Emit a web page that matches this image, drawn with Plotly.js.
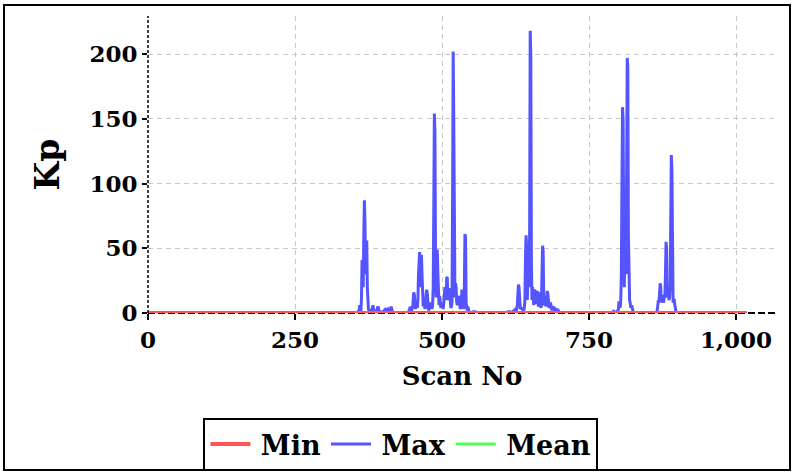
<!DOCTYPE html>
<html>
<head>
<meta charset="utf-8">
<script src="https://cdn.plot.ly/plotly-3.0.1.min.js"></script>
<style>html,body{margin:0;padding:0;background:#fff;}#chart{width:794px;height:474px;}</style>
</head>
<body>
<div id="chart"></div>
<script>
// ---- data ----
var seriesNames = ["Min", "Max", "Mean"];

var minScans = [0, 1018];
var minValues = [0, 0];

var meanScans = [0, 364, 368, 372, 486, 487, 490, 518, 519, 522, 649, 650, 653, 806, 807, 815, 818, 889, 890, 893, 1018];
var meanValues = [0, 0, 0.4, 0, 0, 0.6, 0, 0, 0.6, 0, 0, 0.7, 0, 0, 0.5, 0.6, 0, 0, 0.4, 0, 0];

var maxScans = [
  0,
  355, 359, 360, 361, 362, 363, 364, 365, 366, 367, 368, 369, 370, 371, 372, 373, 374, 375, 376, 377, 379, 381, 382, 383, 384, 385, 387, 389, 391, 392, 393, 395, 397, 399, 401, 403, 404, 406, 408, 410, 412, 413, 414, 415, 417,
  440, 443, 445, 446, 447, 448, 450, 451, 452, 453, 454, 455, 456, 457, 458, 459, 460, 461, 462, 463, 464, 465, 466, 467, 468, 469, 470, 471, 472, 473, 474, 475, 476, 477, 478, 479, 480, 481, 482, 483, 484, 485, 486, 487, 488, 489, 490, 491, 492, 493, 494, 495, 496, 497, 498, 499, 500, 501, 502, 503, 504, 505, 506, 507, 508, 509, 510, 511, 512, 513, 514, 515, 516, 517, 518, 519, 520, 521, 522, 523, 524, 525, 526, 527, 528, 529, 530, 531, 532, 533, 534, 535, 536, 537, 538, 539, 540, 541, 542, 543, 544, 545, 546, 548, 551, 553, 555, 557, 559,
  608, 612, 614, 616, 618, 621, 623, 625, 626, 627, 628, 629, 630, 631, 632, 633, 634, 636, 637, 638, 639, 640, 641, 642, 643, 644, 645, 646, 647, 648, 649, 650, 651, 652, 653, 654, 655, 656, 657, 658, 659, 660, 661, 662, 663, 664, 665, 666, 667, 668, 669, 670, 671, 672, 673, 674, 675, 676, 677, 678, 679, 680, 681, 682, 683, 684, 685, 686, 687, 688, 689, 690, 691, 692, 693, 695, 696, 697, 699, 701,
  788, 791, 792, 793, 795, 798, 800, 801, 802, 803, 804, 805, 806, 807, 808, 809, 810, 811, 812, 813, 814, 815, 816, 817, 818, 819, 820, 821, 822, 823, 824, 825, 827,
  864, 866, 867, 868, 869, 870, 871, 872, 873, 874, 875, 876, 877, 878, 879, 880, 881, 882, 883, 884, 885, 886, 887, 888, 889, 890, 891, 892, 893, 894, 895, 896, 897, 898, 900,
  1018
];
var maxValues = [
  0,
  0, 2, 6, 3, 1, 10, 41, 30, 20, 60, 87, 70, 30, 50, 56, 20, 5, 2, 3, 1, 1, 2, 5, 5, 2, 1, 1, 2, 5, 4, 1, 1, 0, 1, 2, 3, 3, 2, 3, 1, 2, 4, 4, 2, 0,
  0, 1, 3, 5, 4, 2, 4, 12, 16, 14, 4, 3, 7, 9, 4, 10, 30, 47, 47, 20, 36, 45, 30, 6, 5, 8, 7, 3, 6, 14, 18, 15, 6, 2, 3, 5, 7, 8, 6, 3, 6, 20, 80, 154, 140, 40, 12, 45, 49, 30, 8, 6, 13, 10, 4, 6, 8, 6, 3, 8, 14, 20, 16, 10, 28, 27, 10, 14, 19, 17, 6, 4, 5, 8, 90, 202, 150, 20, 12, 23, 20, 8, 6, 10, 13, 12, 4, 3, 5, 15, 18, 16, 4, 3, 20, 61, 58, 8, 3, 2, 5, 2, 1, 0, 1, 1, 1, 1, 0,
  0, 1, 1, 1, 0, 1, 2, 3, 2, 3, 6, 18, 22, 20, 5, 3, 4, 3, 4, 3, 2, 4, 10, 45, 60, 50, 10, 25, 31, 20, 60, 218, 200, 40, 10, 20, 12, 6, 17, 18, 10, 7, 14, 17, 12, 5, 14, 16, 10, 4, 6, 30, 52, 48, 10, 6, 13, 8, 5, 12, 17, 15, 6, 4, 5, 8, 7, 3, 2, 4, 5, 4, 2, 2, 3, 2, 3, 2, 1, 0,
  0, 1, 2, 1, 0, 1, 3, 9, 5, 4, 10, 30, 100, 159, 150, 60, 20, 50, 69, 30, 120, 197, 190, 60, 12, 10, 8, 4, 5, 5, 3, 1, 0,
  0, 2, 6, 10, 8, 18, 23, 20, 8, 12, 14, 10, 8, 14, 12, 30, 55, 50, 12, 15, 19, 10, 12, 20, 80, 122, 110, 20, 8, 10, 10, 6, 3, 1, 0,
  0
];

var xTickValues = [0, 250, 500, 750, 1000];
var yTickValues = [0, 50, 100, 150, 200];
var xTitle = "Scan No";
var yTitle = "Kp";

// ---- chart ----
var FONT = "DejaVu Serif";
var GAP = "\u2009"; // thin space between legend line sample and label
var traces = [
  {x: meanScans, y: meanValues, name: GAP + seriesNames[2], type: "scatter", mode: "lines",
   line: {color: "#55ff55", width: 3}, legendrank: 3},
  {x: maxScans, y: maxValues, name: GAP + seriesNames[1], type: "scatter", mode: "lines",
   line: {color: "#5555ff", width: 3}, legendrank: 2},
  {x: minScans, y: minValues, name: GAP + seriesNames[0], type: "scatter", mode: "lines",
   line: {color: "#ff5555", width: 4}, legendrank: 1}
];

var layout = {
  width: 794, height: 474,
  margin: {l: 148, r: 18, t: 16, b: 161},
  paper_bgcolor: "#ffffff", plot_bgcolor: "#ffffff",
  font: {family: FONT, weight: "bold", color: "#000000", size: 22},
  showlegend: true,
  legend: {
    orientation: "h", xref: "container", yref: "container",
    x: 0.505, xanchor: "center", y: 0.118, yanchor: "top",
    bordercolor: "#000000", borderwidth: 2,
    font: {family: FONT, weight: "bold", size: 27, color: "#000000"},
    itemwidth: 40, traceorder: "normal"
  },
  xaxis: {
    range: [0, 1068], tickvals: xTickValues, tickformat: ",d",
    showgrid: true, gridcolor: "#c8c8c8", griddash: "5px,4px", gridwidth: 1,
    zeroline: false, showline: false,
    ticks: "outside", ticklen: 6, tickwidth: 2, tickcolor: "#000000",
    tickfont: {family: FONT, weight: "bold", size: 23, color: "#000000"},
    title: {text: xTitle, font: {family: FONT, weight: "bold", size: 26, color: "#000000"}, standoff: 15},
    automargin: false
  },
  yaxis: {
    range: [0, 229.4], tickvals: yTickValues,
    showgrid: true, gridcolor: "#c8c8c8", griddash: "5px,4px", gridwidth: 1,
    zeroline: false, showline: false,
    ticks: "outside", ticklen: 5, tickwidth: 2, tickcolor: "#000000",
    tickfont: {family: FONT, weight: "bold", size: 23, color: "#000000"},
    title: {text: yTitle, font: {family: FONT, weight: "bold", size: 33, color: "#000000"}, standoff: 19},
    automargin: false
  },
  shapes: [
    {type: "line", xref: "paper", yref: "paper", x0: 0, x1: 0, y0: 0, y1: 1,
     line: {color: "#000000", width: 1.5, dash: "3px,2px"}, layer: "above"},
    {type: "line", xref: "paper", yref: "paper", x0: 0, x1: 1, y0: 0, y1: 0,
     line: {color: "#000000", width: 2, dash: "7px,3px"}, layer: "below"},
    {type: "rect", xref: "paper", yref: "paper", x0: -0.2293, x1: 1.0223, y0: -0.5286, y1: 1.037,
     line: {color: "#000000", width: 2}, fillcolor: "rgba(0,0,0,0)", layer: "above"}
  ]
};

Plotly.newPlot("chart", traces, layout, {staticPlot: true, displayModeBar: false});
</script>
</body>
</html>
